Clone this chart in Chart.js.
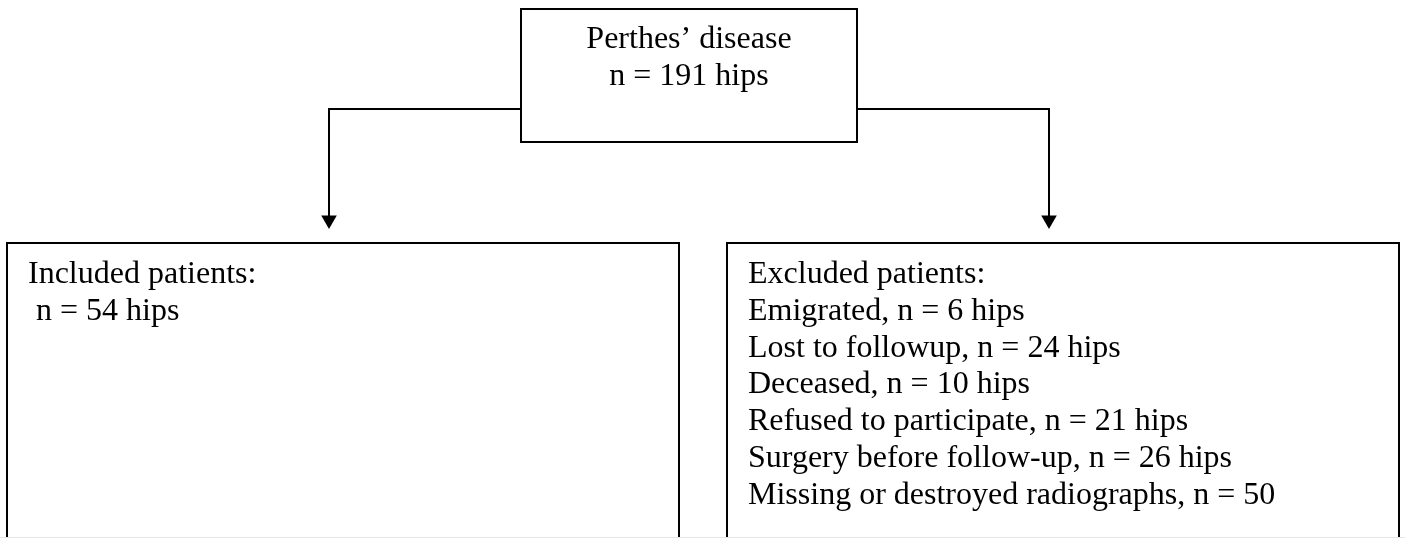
<!DOCTYPE html>
<html>
<head>
<meta charset="utf-8">
<script src="https://cdn.jsdelivr.net/npm/chart.js@4.4.0/dist/chart.umd.min.js"></script>
<style>
html, body { margin: 0; padding: 0; background: #fff; }
#flow { display: block; }
</style>
</head>
<body>
<canvas id="flow" width="1405" height="538"></canvas>
<script>
// text in each box of the flow chart
const topLines = ['Perthes\u2019 disease', 'n = 191 hips'];
const includedLines = ['Included patients:', ' n = 54 hips'];
const excludedLines = [
    'Excluded patients:',
    'Emigrated, n = 6 hips',
    'Lost to followup, n = 24 hips',
    'Deceased, n = 10 hips',
    'Refused to participate, n = 21 hips',
    'Surgery before follow-up, n = 26 hips',
    'Missing or destroyed radiographs, n = 50'
];

// layout, in page units (x to the right, y down)
const boxes = [
    { lines: topLines, x0: 521, x1: 857, y0: 9, y1: 142, align: 'center', baseline: 48 },
    { lines: includedLines, x0: 7, x1: 679, y0: 243, y1: 560, align: 'left', textX: 28, baseline: 283 },
    { lines: excludedLines, x0: 727, x1: 1399, y0: 243, y1: 560, align: 'left', textX: 748, baseline: 283 }
];
const connectors = [
    [{ x: 521, y: 109 }, { x: 329, y: 109 }, { x: 329, y: 220 }],
    [{ x: 857, y: 109 }, { x: 1049, y: 109 }, { x: 1049, y: 220 }]
];
const fontSize = 32;
const lineHeight = 36.8;
const fontFamily = '"Liberation Serif", "Times New Roman", serif';

const boxPlugin = {
    id: 'boxes',
    afterDatasetsDraw(chart) {
        const ctx = chart.ctx;
        const xs = chart.scales.x;
        const ys = chart.scales.y;
        ctx.save();
        ctx.strokeStyle = '#000';
        ctx.lineWidth = 2;
        ctx.fillStyle = '#000';
        ctx.font = fontSize + 'px ' + fontFamily;
        ctx.textBaseline = 'alphabetic';
        boxes.forEach(b => {
            const left = xs.getPixelForValue(b.x0);
            const right = xs.getPixelForValue(b.x1);
            const top = ys.getPixelForValue(b.y0);
            const bottom = ys.getPixelForValue(b.y1);
            ctx.strokeRect(left, top, right - left, bottom - top);
            ctx.textAlign = b.align;
            const tx = b.align === 'center' ? (left + right) / 2 : xs.getPixelForValue(b.textX);
            b.lines.forEach((line, i) => {
                ctx.fillText(line, tx, ys.getPixelForValue(b.baseline + i * lineHeight));
            });
        });
        // faint bottom edge of the page
        ctx.strokeStyle = '#e6e6e6';
        ctx.lineWidth = 1;
        ctx.beginPath();
        ctx.moveTo(0, ys.getPixelForValue(537.5));
        ctx.lineTo(xs.getPixelForValue(1405), ys.getPixelForValue(537.5));
        ctx.stroke();
        ctx.restore();
    }
};

new Chart(document.getElementById('flow').getContext('2d'), {
    type: 'scatter',
    data: {
        datasets: connectors.map(pts => ({
            data: pts,
            showLine: true,
            borderColor: '#000',
            backgroundColor: '#000',
            borderWidth: 2,
            pointStyle: 'triangle',
            rotation: 180,
            pointRadius: ctx => ctx.dataIndex === pts.length - 1 ? 9 : 0,
            pointBorderWidth: 0,
            clip: false
        }))
    },
    options: {
        responsive: false,
        animation: false,
        events: [],
        layout: { padding: 0, autoPadding: false },
        plugins: {
            legend: { display: false },
            tooltip: { enabled: false }
        },
        scales: {
            x: { type: 'linear', min: 0, max: 1405, display: false },
            y: { type: 'linear', min: 0, max: 538, reverse: true, display: false }
        }
    },
    plugins: [boxPlugin]
});
</script>
</body>
</html>
